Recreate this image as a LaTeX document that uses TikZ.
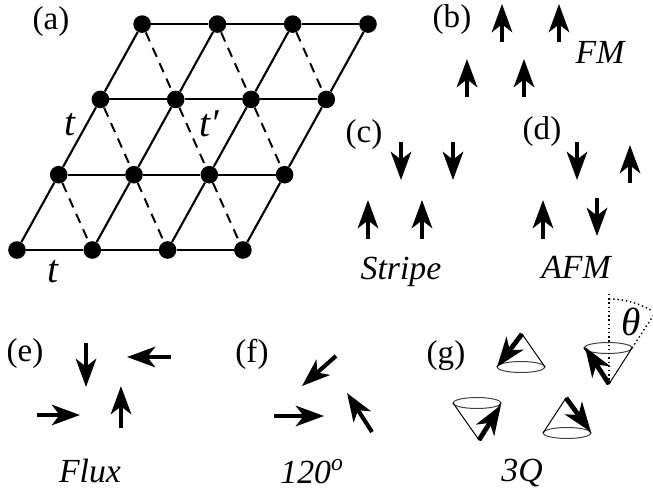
\documentclass[tikz,border=0pt]{standalone}
\usepackage{fontspec}
\setmainfont{Liberation Serif}
\usetikzlibrary{arrows.meta}
\tikzset{
  site/.style={circle, fill=black, minimum size=0.44cm, inner sep=0pt},
  bond/.style={line width=1.5pt},
  nnn bond/.style={line width=1.4pt, dash pattern=on 7pt off 5pt},
  spin/.style={-{Stealth[length=20pt, width=14.5pt, inset=5.5pt]}, line width=2.9pt},
  cone/.style={line width=0.7pt},
  cone spin/.style={-{Stealth[length=21pt, width=15pt, inset=6pt]}, line width=3.4pt},
  guide/.style={dotted, line width=1pt},
  panel/.style={font=\fontsize{23.5}{27}\selectfont},
  bond label/.style={font=\fontsize{28}{32}\selectfont\itshape},
  phase/.style={font=\fontsize{24}{28}\selectfont\itshape, anchor=base}
}

\begin{document}
\begin{tikzpicture}[x=0.025cm, y=-0.025cm]
  \useasboundingbox (0,0) rectangle (653,494);

  % (a) lattice
  \foreach \i in {0,...,3}
    \foreach \j in {0,...,3}
      \node[site] (s\i\j) at ({17+75.3*\i+41.7*\j}, {250-75.3*\j}) {};
  \foreach \i/\k in {0/1,1/2,2/3}
    \foreach \j in {0,...,3} {
      \draw[bond] (s\i\j) -- (s\k\j);
      \draw[bond] (s\j\i) -- (s\j\k);
    }
  \foreach \i/\k in {0/1,1/2,2/3}
    \foreach \j/\l in {0/1,1/2,2/3}
      \draw[nnn bond] (s\i\l) -- (s\k\j);

  \node[panel] (lab-a) at (51,22) {(a)};
  \node[bond label] (t-side) at (70,125) {t};
  \node[bond label] (t-prime) at (209,124) {t′};
  \node[bond label] (t-bottom) at (53,272) {t};

  % (b) FM
  \node[panel] (lab-b) at (452,20) {(b)};
  \draw[spin] (502,42) -- (502,4);
  \draw[spin] (559,42) -- (559,4);
  \draw[spin] (467,97) -- (467,59);
  \draw[spin] (524,97) -- (524,59);
  \node[phase] (fm) at (600,63) {FM};

  % (c) stripe
  \node[panel] (lab-c) at (364,135) {(c)};
  \draw[spin] (401,142) -- (401,180);
  \draw[spin] (453,142) -- (453,180);
  \draw[spin] (368,239) -- (368,200);
  \draw[spin] (422,239) -- (422,200);
  \node[phase] (stripe) at (401,279) {Stripe};

  % (d) AFM
  \node[panel] (lab-d) at (542,132) {(d)};
  \draw[spin] (577,142) -- (577,180);
  \draw[spin] (630,183) -- (630,145);
  \draw[spin] (543,239) -- (543,200);
  \draw[spin] (597,198) -- (597,236);
  \node[phase] (afm) at (576,278) {AFM};

  % (e) flux
  \node[panel] (lab-e) at (25,354) {(e)};
  \draw[spin] (86,343) -- (86,387);
  \draw[spin] (171,357) -- (127,357);
  \draw[spin] (37,415) -- (80,415);
  \draw[spin] (121,428) -- (121,386);
  \node[phase] (flux) at (90,482) {Flux};

  % (f) 120 degree
  \node[panel] (lab-f) at (252,354) {(f)};
  \draw[spin] (336,356) -- (302,386);
  \draw[spin] (274,416) -- (324,416);
  \draw[spin] (372,432) -- (347,393);
  \node[phase] (deg) at (312,483) {120\textsuperscript{o}};

  % (g) 3Q cones
  \node[panel] (lab-g) at (446,356) {(g)};
  \foreach \ax/\ay/\ex/\ey/\tx/\ty/\n in {522/334/521/367/497/367/1,
      609/384/608/348/585/347/2, 479/440/477/403/501/405/3,
      566/398/567/433/591/432/4} {
    \coordinate (apex\n) at (\ax,\ay);
    \coordinate (tip\n) at (\tx,\ty);
    \draw[cone, black!75] (\ex,\ey) ellipse [x radius=24, y radius=5.5];
    \draw[cone] (\ex-24,\ey) -- (apex\n) -- (\ex+24,\ey);
    \draw[cone spin] (apex\n) -- (tip\n);
  }
  \draw[guide] (apex2) -- (609,293);
  \draw[guide] (632,348) -- (655,313);
  \draw[guide] (609,299) arc[start angle=-90, end angle=-57, radius=84];
  \node[bond label] (theta) at (631,322) {θ};
  \node[phase] (threeq) at (522,481) {3Q};
\end{tikzpicture}
\end{document}
